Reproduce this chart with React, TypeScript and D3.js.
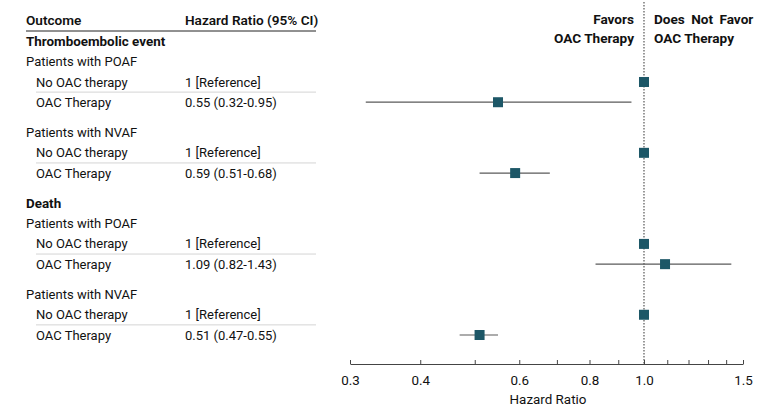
import React, { useRef, useEffect } from "react";
import * as d3 from "d3";

// rows of the forest table, top to bottom
const rowKinds = ["outcome", "population", "item", "item", "population", "item", "item",
  "outcome", "population", "item", "item", "population", "item", "item"];
const rowLabels = ["Thromboembolic event", "Patients with POAF", "No OAC therapy", "OAC Therapy",
  "Patients with NVAF", "No OAC therapy", "OAC Therapy",
  "Death", "Patients with POAF", "No OAC therapy", "OAC Therapy",
  "Patients with NVAF", "No OAC therapy", "OAC Therapy"];
// vertical slot of each row (gaps between the blocks)
const rowSlots = [0, 1, 2, 3, 4.5, 5.5, 6.5, 8, 9, 10, 11, 12.5, 13.5, 14.5];

const hrLabels = [null, null, "1 [Reference]", "0.55 (0.32-0.95)", null, "1 [Reference]", "0.59 (0.51-0.68)",
  null, null, "1 [Reference]", "1.09 (0.82-1.43)", null, "1 [Reference]", "0.51 (0.47-0.55)"];
const hrValues = [null, null, 1, 0.55, null, 1, 0.59, null, null, 1, 1.09, null, 1, 0.51];
const ciLow = [null, null, null, 0.32, null, null, 0.51, null, null, null, 0.82, null, null, 0.47];
const ciHigh = [null, null, null, 0.95, null, null, 0.68, null, null, null, 1.43, null, null, 0.55];

const tickValues = [0.3, 0.4, 0.5, 0.6, 0.7, 0.8, 0.9, 1.0, 1.1, 1.2, 1.3, 1.4, 1.5];
const labeledTicks = [0.3, 0.4, 0.6, 0.8, 1.0, 1.5];

const FONT = "Roboto, 'Noto Sans', sans-serif";
const TEAL = "#1d5767";

const App = () => {
  const svgRef = useRef(null);

  useEffect(() => {
    const svg = d3.select(svgRef.current);
    svg.selectAll("*").remove();

    const width = 780;
    const height = 418;
    svg.attr("width", width).attr("height", height).style("font-family", FONT);

    const x = d3.scaleLog().domain([0.3, 1.5]).range([350, 743]);
    const y = d3.scaleLinear().domain([0, 14.5]).range([41.5, 335]);
    const axisY = 364;

    // table header
    const header = svg.append("g").attr("font-size", 13.6).attr("font-weight", 600).attr("fill", "#111");
    header.append("text").attr("x", 26).attr("y", 20).attr("dy", "0.35em").text("Outcome");
    header.append("text").attr("x", 185).attr("y", 20).attr("dy", "0.35em").text("Hazard Ratio (95% CI)");
    svg.append("line").attr("x1", 26).attr("x2", 316).attr("y1", 31).attr("y2", 31)
      .attr("stroke", "#222").attr("stroke-width", 1);

    // separators between the two comparison rows
    rowKinds.forEach((k, i) => {
      if (k === "item" && rowKinds[i + 1] === "item") {
        const ys = (y(rowSlots[i]) + y(rowSlots[i + 1])) / 2;
        svg.append("line").attr("x1", 36).attr("x2", 316).attr("y1", ys).attr("y2", ys)
          .attr("stroke", "#d4d4d4").attr("stroke-width", 1);
      }
    });

    // row labels
    const rows = svg.append("g").attr("font-size", 13).attr("fill", "#111");
    rowLabels.forEach((lab, i) => {
      const kind = rowKinds[i];
      rows.append("text")
        .attr("x", kind === "item" ? 36 : 26)
        .attr("y", y(rowSlots[i]))
        .attr("dy", "0.35em")
        .attr("font-weight", kind === "outcome" ? 700 : 400)
        .attr("font-size", kind === "outcome" ? 13.4 : 13)
        .text(lab);
      if (hrLabels[i]) {
        rows.append("text").attr("x", 185).attr("y", y(rowSlots[i])).attr("dy", "0.35em").text(hrLabels[i]);
      }
    });

    // reference line at 1.0
    svg.append("line").attr("x1", x(1)).attr("x2", x(1)).attr("y1", 2).attr("y2", axisY)
      .attr("stroke", "#333").attr("stroke-width", 1).attr("stroke-dasharray", "1.5,1.5");

    // favors labels
    const fav = svg.append("g").attr("font-size", 13.6).attr("font-weight", 700).attr("fill", "#111");
    fav.append("text").attr("x", x(1) - 10).attr("y", 19).attr("dy", "0.35em").attr("text-anchor", "end").text("Favors");
    fav.append("text").attr("x", x(1) - 10).attr("y", 38).attr("dy", "0.35em").attr("text-anchor", "end").text("OAC Therapy");
    fav.append("text").attr("x", x(1) + 10).attr("y", 19).attr("dy", "0.35em").attr("word-spacing", 3).text("Does Not Favor");
    fav.append("text").attr("x", x(1) + 10).attr("y", 38).attr("dy", "0.35em").text("OAC Therapy");

    // confidence intervals and estimates
    const marks = svg.append("g");
    hrValues.forEach((v, i) => {
      if (v == null) return;
      const yy = y(rowSlots[i]);
      if (ciLow[i] != null) {
        marks.append("line").attr("x1", x(ciLow[i])).attr("x2", x(ciHigh[i])).attr("y1", yy).attr("y2", yy)
          .attr("stroke", "#5a5a5a").attr("stroke-width", 1.2);
      }
      const s = 10;
      marks.append("rect").attr("x", x(v) - s / 2).attr("y", yy - s / 2).attr("width", s).attr("height", s)
        .attr("fill", TEAL);
    });

    // axis
    const axis = d3.axisBottom(x)
      .tickValues(tickValues)
      .tickSizeInner(-4)
      .tickSizeOuter(0)
      .tickPadding(11)
      .tickFormat((d) => (labeledTicks.includes(d) ? d3.format(".1f")(d) : ""));
    const ax = svg.append("g").attr("transform", `translate(0,${axisY})`).call(axis);
    ax.select(".domain").attr("stroke", "#444");
    ax.selectAll(".tick line").attr("stroke", "#444");
    ax.selectAll(".tick text").attr("font-size", 13.4).attr("font-family", FONT).attr("fill", "#111");

    svg.append("text").attr("x", 548).attr("y", 399).attr("dy", "0.35em").attr("text-anchor", "middle")
      .attr("font-size", 13.4).attr("fill", "#111").text("Hazard Ratio");
  }, []);

  return (
    <div style={{ position: "absolute", left: 0, top: 0, background: "#fff" }}>
      <svg ref={svgRef} style={{ display: "block" }}></svg>
    </div>
  );
};

export default App;
